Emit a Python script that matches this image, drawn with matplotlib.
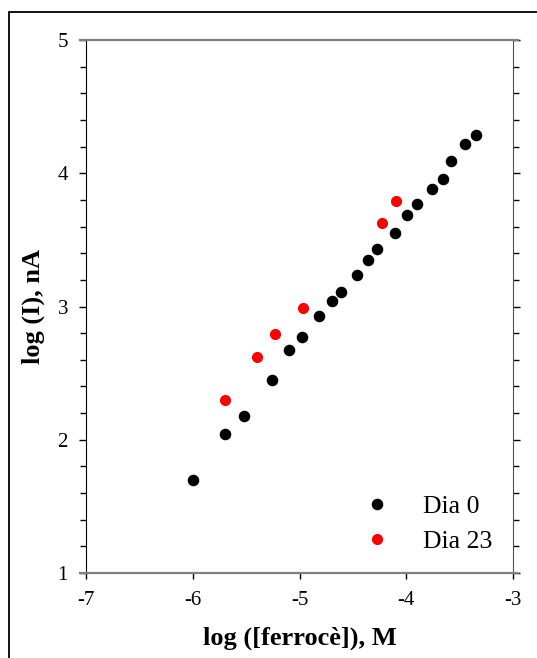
import matplotlib
matplotlib.use('Agg')
import matplotlib.pyplot as plt
from matplotlib.patches import Rectangle
from matplotlib.ticker import MultipleLocator

# data
x_dia0 = [-6.00, -5.70, -5.52, -5.26, -5.10, -4.98, -4.82, -4.70, -4.61, -4.46,
          -4.36, -4.27, -4.11, -3.99, -3.90, -3.76, -3.66, -3.58, -3.45, -3.35]
y_dia0 = [1.70, 2.04, 2.18, 2.45, 2.67, 2.77, 2.93, 3.04, 3.11, 3.24,
          3.35, 3.43, 3.55, 3.69, 3.77, 3.88, 3.96, 4.09, 4.22, 4.29]
x_dia23 = [-5.70, -5.40, -5.23, -4.97, -4.23, -4.10]
y_dia23 = [2.30, 2.62, 2.79, 2.99, 3.63, 3.79]
labels = ['Dia 0', 'Dia 23']

plt.rcParams['font.family'] = ['Liberation Serif', 'DejaVu Serif']
plt.rcParams['axes.unicode_minus'] = False

fig = plt.figure(figsize=(5.37, 6.58), dpi=100)
ax = fig.add_axes([86/537, 1 - 573/658, 427/537, 533/658])

ax.plot(x_dia0, y_dia0, 'o', color='black', ms=7.3, mec='black', label=labels[0])
ax.plot(x_dia23, y_dia23, 'o', color='red', ms=7.0, mec='red', label=labels[1])

ax.set_xlim(-7, -3)
ax.set_ylim(1, 5)
ax.xaxis.set_major_locator(MultipleLocator(1))
ax.yaxis.set_major_locator(MultipleLocator(1))
ax.yaxis.set_minor_locator(MultipleLocator(0.2))

ax.tick_params(axis='x', which='major', direction='out', length=4, width=1,
               labelsize=15, pad=9)
ax.tick_params(axis='y', which='both', direction='out', left=True, right=True,
               labelsize=15, pad=8, width=1)
ax.tick_params(axis='y', which='major', length=5)
ax.tick_params(axis='y', which='minor', length=4)

ax.spines['left'].set_color('black')
ax.spines['right'].set_color('#505050')
for s in ['top', 'bottom']:
    ax.spines[s].set_visible(False)
# grey top and bottom lines that run a bit past the axes
for yy in [0, 1]:
    ax.plot([-0.013, 1.012], [yy, yy], transform=ax.transAxes, color='#808080',
            lw=1.6, clip_on=False, zorder=3)

ax.set_xlabel('log ([ferrocè]), M', fontsize=19, fontweight='bold', labelpad=12)
ax.set_ylabel('log (I), nA', fontsize=19, fontweight='bold', labelpad=9)

ax.legend(loc='upper left', bbox_to_anchor=(0.597, 0.165), frameon=False,
          fontsize=18.5, labelspacing=0.45, borderaxespad=0, handletextpad=0.8)

# outer frame
fig.patches.append(Rectangle((9/537, -0.1), 1.2, 1.1 - 12/658,
                             transform=fig.transFigure, fill=False,
                             edgecolor='black', lw=1.3))

fig.savefig('out.png', dpi=100)
